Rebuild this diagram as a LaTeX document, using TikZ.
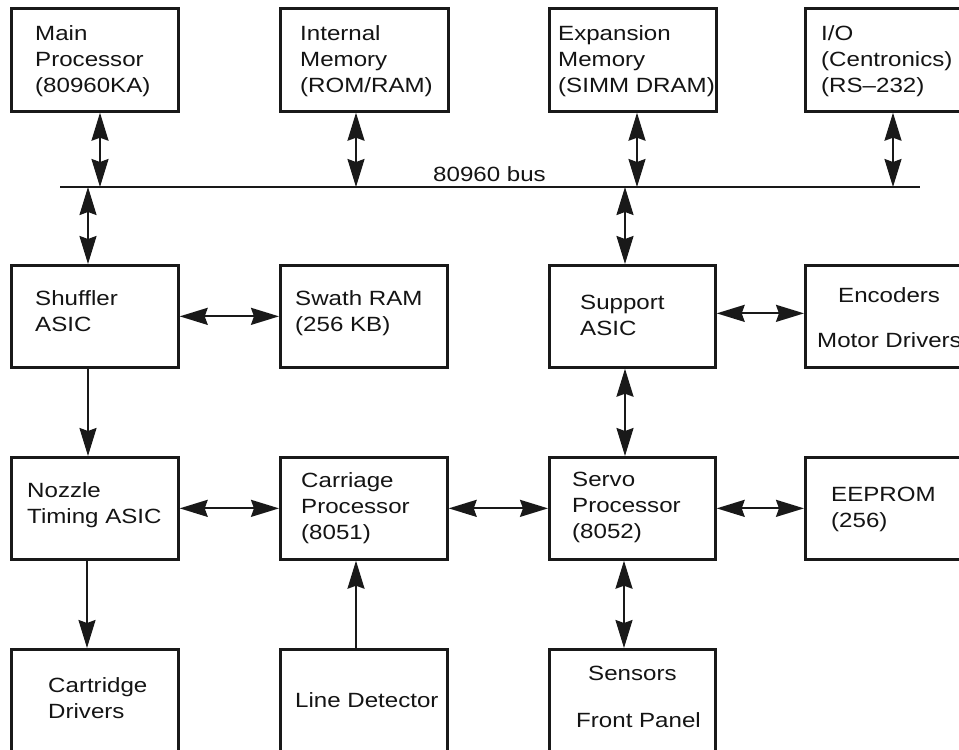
\documentclass[tikz,border=0pt]{standalone}
\usepackage{fontspec}
\setmainfont{Liberation Sans}[FakeStretch=1.17]
\usetikzlibrary{arrows.meta}
\tikzset{
  box/.style={draw=black!90, line width=2.7pt, rectangle, inner sep=0pt, anchor=north west, fill=white},
  lbl/.style={inner sep=0pt, align=left, anchor=north west, font=\fontsize{20.6}{26}\selectfont, text=black!92},
  dar/.style={line width=2pt, draw=black!90, {Stealth[length=28pt,width=17pt,inset=3pt]}-{Stealth[length=28pt,width=17pt,inset=3pt]}},
  sar/.style={line width=2pt, draw=black!90, -{Stealth[length=28pt,width=17pt,inset=3pt]}},
  busline/.style={line width=2.4pt, draw=black!90}
}
\begin{document}
\begin{tikzpicture}[x=1pt,y=-1pt]
\useasboundingbox (0,0) rectangle (959,750);
\clip (0,0) rectangle (959,750);
% boxes
\node[box, minimum width=167pt, minimum height=103pt] (main) at (10,7) {};
\node[box, minimum width=168pt, minimum height=103pt] (imem) at (279,7) {};
\node[box, minimum width=167pt, minimum height=103pt] (emem) at (548,7) {};
\node[box, minimum width=170pt, minimum height=103pt] (io) at (804,7) {};
\node[box, minimum width=167pt, minimum height=102pt] (shuf) at (10,264) {};
\node[box, minimum width=167pt, minimum height=102pt] (swath) at (279,264) {};
\node[box, minimum width=166pt, minimum height=102pt] (supp) at (548,264) {};
\node[box, minimum width=170pt, minimum height=102pt] (enc) at (804,264) {};
\node[box, minimum width=167pt, minimum height=102pt] (nozz) at (10,456) {};
\node[box, minimum width=167pt, minimum height=102pt] (carr) at (279,456) {};
\node[box, minimum width=166pt, minimum height=102pt] (servo) at (548,456) {};
\node[box, minimum width=170pt, minimum height=102pt] (eep) at (804,456) {};
\node[box, minimum width=167pt, minimum height=102pt] (cart) at (10,648) {};
\node[box, minimum width=167pt, minimum height=102pt] (line) at (279,648) {};
\node[box, minimum width=166pt, minimum height=102pt] (sens) at (548,648) {};
% texts
\node[lbl] (mainT) at (35,25) {Main\\Processor\\(80960KA)};
\node[lbl] (imemT) at (300,25) {Internal\\Memory\\(ROM/RAM)};
\node[lbl] (ememT) at (558,25) {Expansion\\Memory\\(SIMM DRAM)};
\node[lbl] (ioT) at (821,25) {I/O\\(Centronics)\\(RS–232)};
\node[lbl] (shufT) at (35,290) {Shuffler\\ASIC};
\node[lbl] (swathT) at (295,290) {Swath RAM\\(256 KB)};
\node[lbl] (suppT) at (580,295) {Support\\ASIC};
\node[lbl] (encA) at (838,287) {Encoders};
\node[lbl] (encB) at (817,332) {Motor Drivers};
\node[lbl] (nozzT) at (27,482) {Nozzle\\Timing ASIC};
\node[lbl] (carrT) at (301,472) {Carriage\\Processor\\(8051)};
\node[lbl] (servoT) at (572,472) {Servo\\Processor\\(8052)};
\node[lbl] (eepT) at (831,487) {EEPROM\\(256)};
\node[lbl] (cartT) at (48,677) {Cartridge\\Drivers};
\node[lbl] (lineT) at (295,692) {Line Detector};
\node[lbl] (sensA) at (588,666) {Sensors};
\node[lbl] (sensB) at (576,712) {Front Panel};
\node[lbl] (busT) at (433,166) {80960 bus};
% bus
\coordinate (busL) at (60,187);
\coordinate (busR) at (920,187);
\coordinate (b1) at (100,187);
\coordinate (b2) at (356,187);
\coordinate (b3) at (637,187);
\coordinate (b4) at (893,187);
\coordinate (b5) at (88,187);
\coordinate (b6) at (625,187);
\draw[busline] (busL) -- (busR);
\draw[dar] (main.south -| b1) -- (b1);
\draw[dar] (imem.south -| b2) -- (b2);
\draw[dar] (emem.south -| b3) -- (b3);
\draw[dar] (io.south -| b4) -- (b4);
\draw[dar] (b5) -- (shuf.north -| b5);
\draw[dar] (b6) -- (supp.north -| b6);
% row 2
\draw[dar] (shuf.east) -- (swath.west);
\draw[dar] ([yshift=3pt]supp.east) -- ([yshift=3pt]supp.east -| enc.west);
\draw[sar] (shuf.south -| b5) -- (nozz.north -| b5);
\draw[dar] (supp.south -| b6) -- (servo.north -| b6);
% row 3
\draw[dar] (nozz.east) -- (carr.west);
\draw[dar] (carr.east) -- (servo.west);
\draw[dar] (servo.east) -- (eep.west);
\coordinate (c1) at (87,600);
\coordinate (c2) at (356,600);
\coordinate (c3) at (624,600);
\draw[sar] (nozz.south -| c1) -- (cart.north -| c1);
\draw[sar] (line.north -| c2) -- (carr.south -| c2);
\draw[dar] (servo.south -| c3) -- (sens.north -| c3);
\end{tikzpicture}
\end{document}
